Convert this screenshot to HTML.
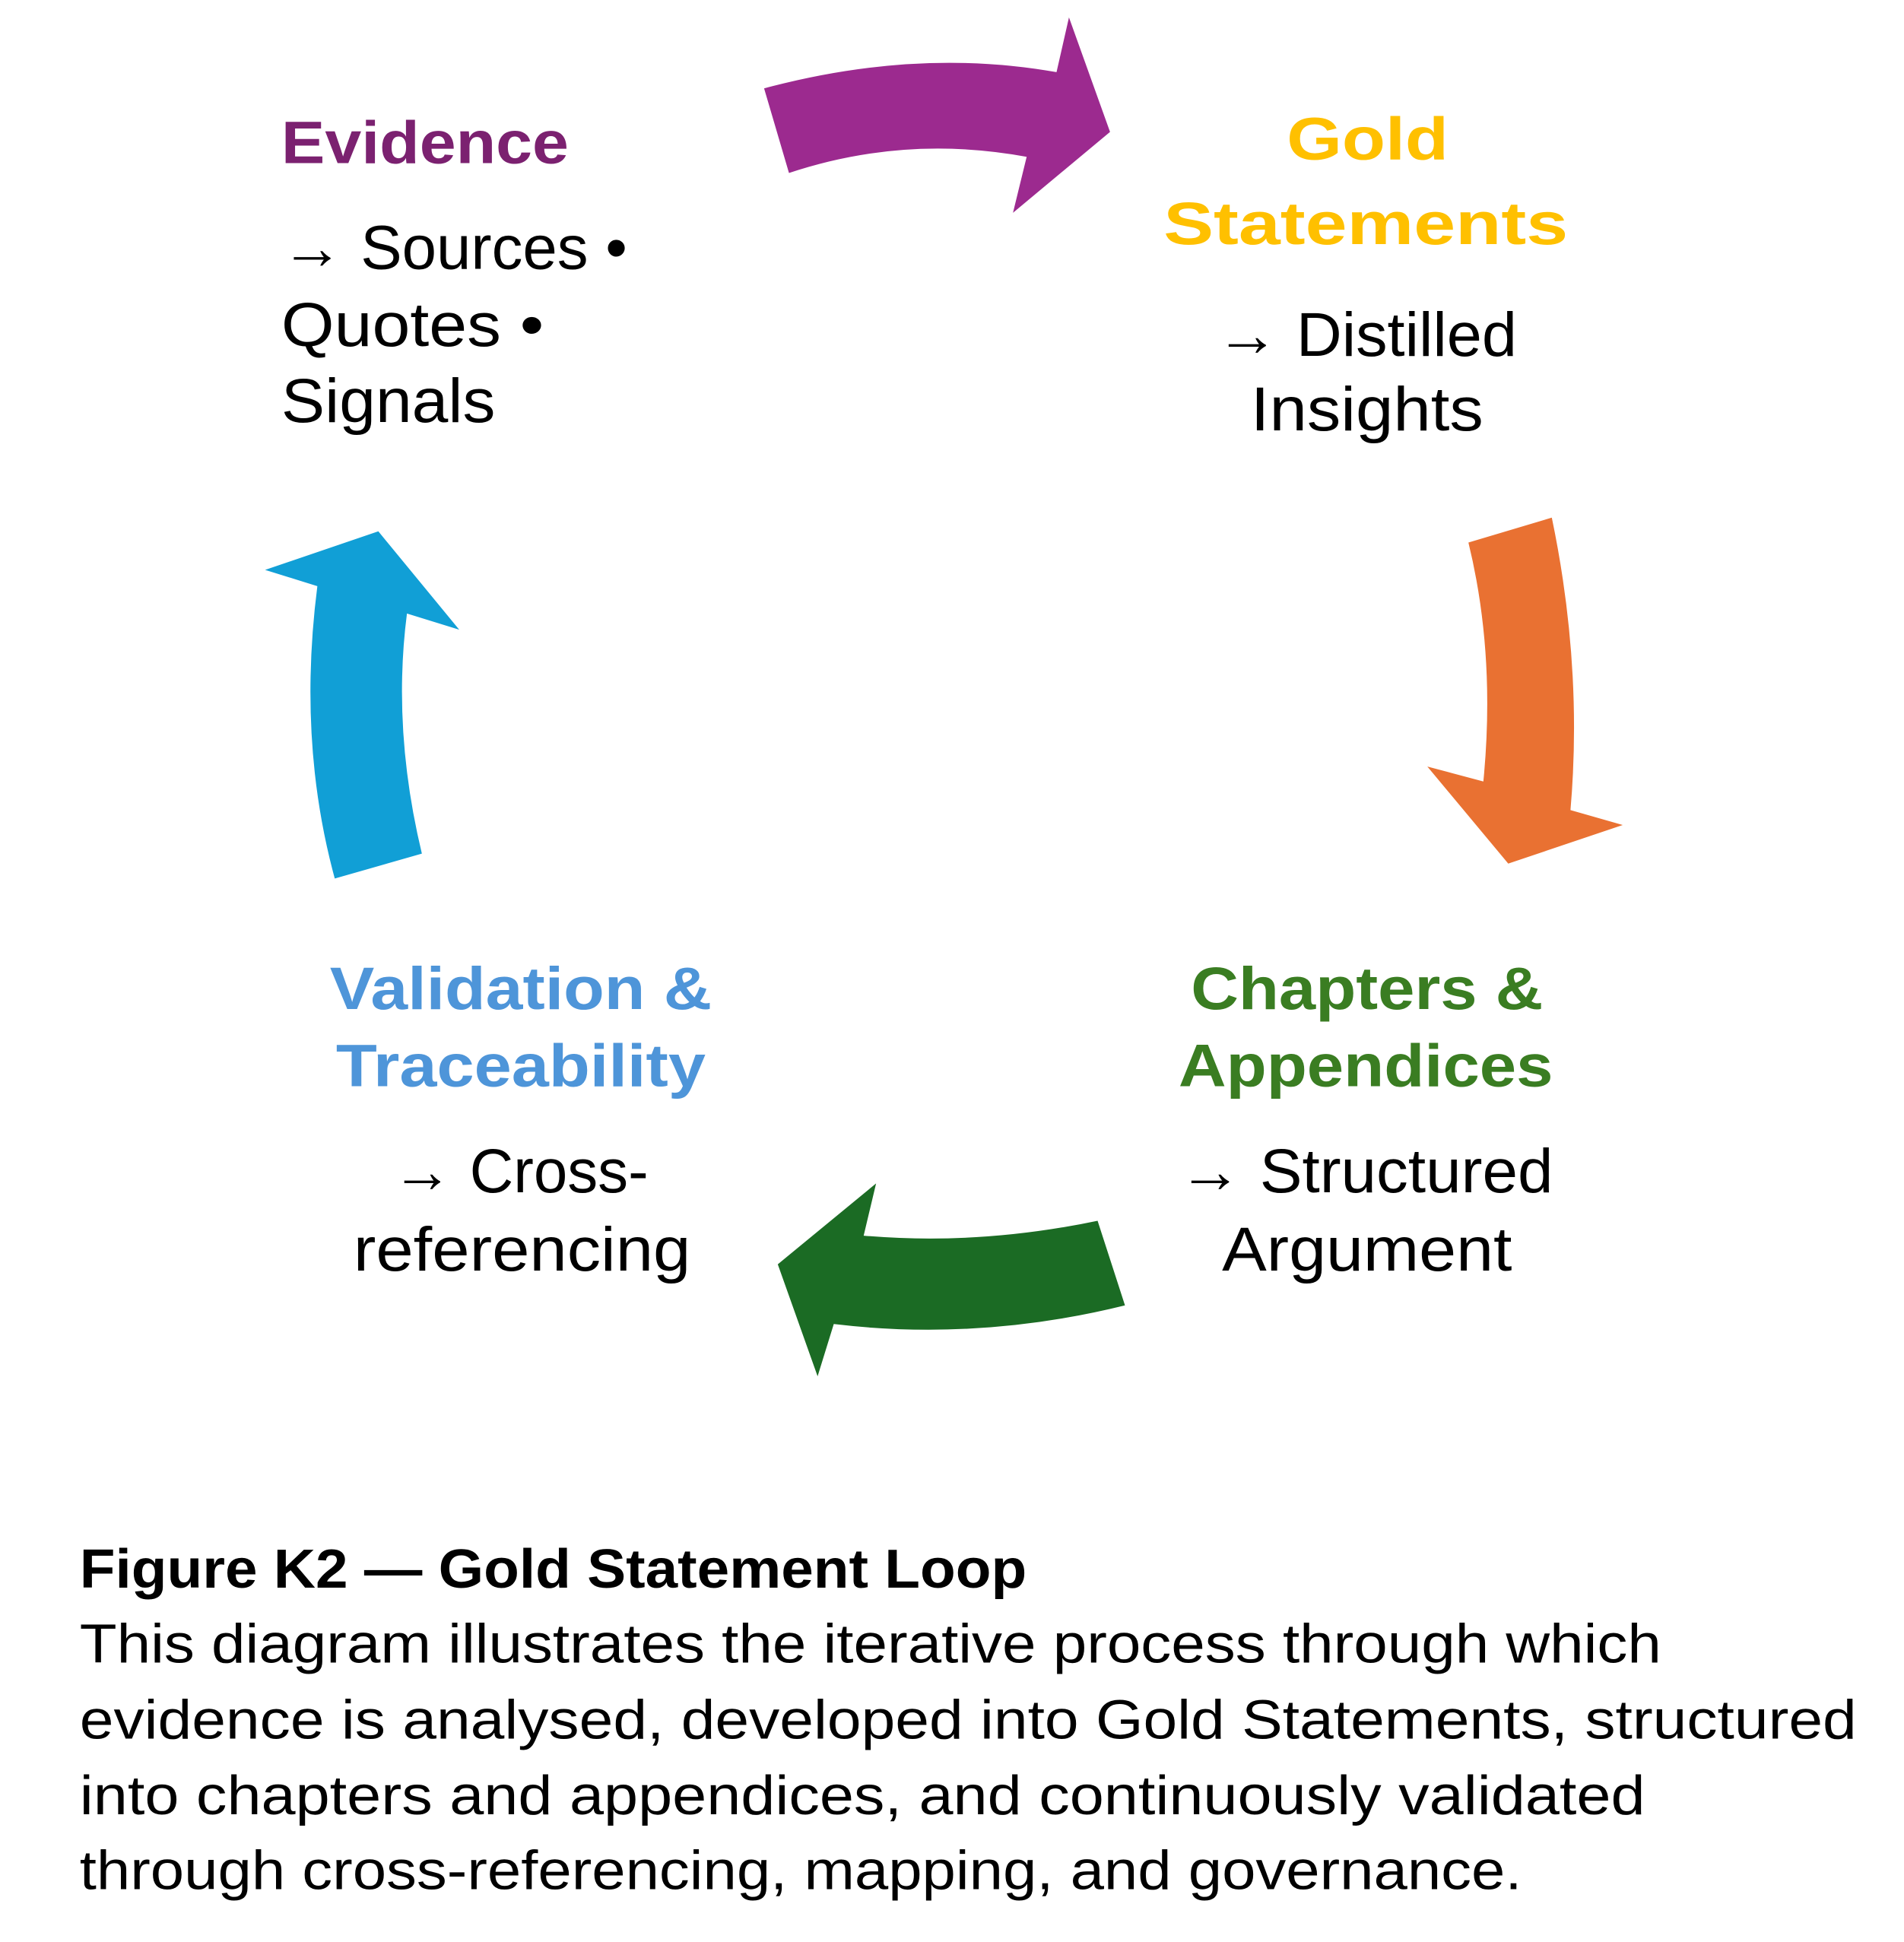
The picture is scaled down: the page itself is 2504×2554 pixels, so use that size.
<!DOCTYPE html>
<html><head><meta charset="utf-8"><style>html,body{margin:0;padding:0;background:#fff}svg{display:block}</style></head>
<body>
<svg xmlns="http://www.w3.org/2000/svg" width="2504" height="2554" viewBox="0 0 1530 1560.6" font-family="'Liberation Sans', sans-serif">
<rect width="1530" height="1561" fill="#fff"/>
<g transform="translate(-3,-4)">
<path d="M617,75 Q740,42 852,62 L862,18 L895,110 L817,175 L828,130 Q730,112 637,143 Z" fill="#9C2A8F"/>
<path d="M1183,440 L1250,420 Q1275,540 1265,655 L1307,667 L1215,698 L1150,620 L1195,632 Q1205,530 1183,440 Z" fill="#E97132"/>
<path d="M907,1053 L885,985 Q790,1005 697,997 L707,955 L628,1020 L660,1110 L673,1068 Q790,1082 907,1053 Z" fill="#1B6B24"/>
<path d="M272,710 L342,690 Q318,590 330,497 L372,510 L307,431 L216,462 L258,475 Q242,600 272,710 Z" fill="#119FD6"/>
<g font-weight="bold" font-size="48">
<text x="229" y="135" fill="#7B2170" textLength="231" lengthAdjust="spacingAndGlyphs">Evidence</text>
<text x="1037" y="132" fill="#FFC000" textLength="130" lengthAdjust="spacingAndGlyphs">Gold</text>
<text x="938" y="200" fill="#FFC000" textLength="325" lengthAdjust="spacingAndGlyphs">Statements</text>
<text x="268" y="815" fill="#4E95D9" textLength="307" lengthAdjust="spacingAndGlyphs">Validation &amp;</text>
<text x="273" y="877" fill="#4E95D9" textLength="297" lengthAdjust="spacingAndGlyphs">Traceability</text>
<text x="960" y="815" fill="#3A7D22" textLength="283" lengthAdjust="spacingAndGlyphs">Chapters &amp;</text>
<text x="950" y="877" fill="#3A7D22" textLength="301" lengthAdjust="spacingAndGlyphs">Appendices</text>
</g>
<g font-size="50" fill="#000">
<text x="229" y="220" textLength="278" lengthAdjust="spacingAndGlyphs">→ Sources •</text>
<text x="229" y="282" textLength="211" lengthAdjust="spacingAndGlyphs">Quotes •</text>
<text x="229" y="343" textLength="172" lengthAdjust="spacingAndGlyphs">Signals</text>
<text x="980" y="290" textLength="242" lengthAdjust="spacingAndGlyphs">→ Distilled</text>
<text x="1008" y="350" textLength="187" lengthAdjust="spacingAndGlyphs">Insights</text>
<text x="318" y="962" textLength="206" lengthAdjust="spacingAndGlyphs">→ Cross-</text>
<text x="287" y="1025" textLength="271" lengthAdjust="spacingAndGlyphs">referencing</text>
<text x="950" y="962" textLength="301" lengthAdjust="spacingAndGlyphs">→ Structured</text>
<text x="985" y="1025" textLength="233" lengthAdjust="spacingAndGlyphs">Argument</text>
</g>
<g font-size="44" fill="#000">
<text x="67" y="1280" font-weight="bold" textLength="761" lengthAdjust="spacingAndGlyphs">Figure K2 — Gold Statement Loop</text>
<text x="67" y="1340" textLength="1271" lengthAdjust="spacingAndGlyphs">This diagram illustrates the iterative process through which</text>
<text x="67" y="1401" textLength="1428" lengthAdjust="spacingAndGlyphs">evidence is analysed, developed into Gold Statements, structured</text>
<text x="67" y="1462" textLength="1258" lengthAdjust="spacingAndGlyphs">into chapters and appendices, and continuously validated</text>
<text x="67" y="1522" textLength="1159" lengthAdjust="spacingAndGlyphs">through cross-referencing, mapping, and governance.</text>
</g>
</g>
</svg>
</body></html>
